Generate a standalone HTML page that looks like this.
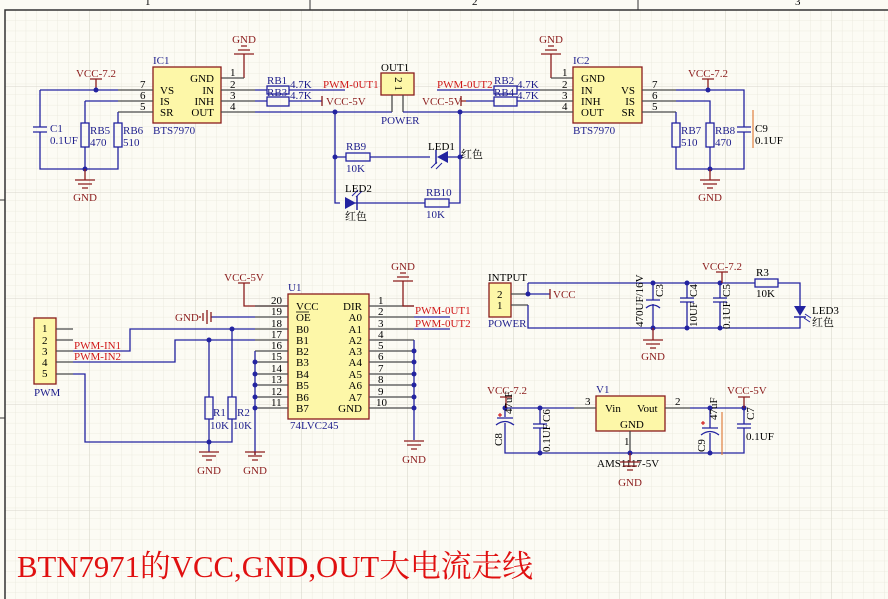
<!DOCTYPE html>
<html><head><meta charset="utf-8"><style>
html,body{margin:0;padding:0;background:#fcfbf4;}
svg{display:block;}
text{font-family:"Liberation Serif","Noto Serif CJK SC",serif;font-size:11px;}
.w{stroke:#2323a0;stroke-width:1.3;fill:none}
.p{stroke:#4a4a4a;stroke-width:1.3;fill:none}
.c{stroke:#2323a0;stroke-width:1.3;fill:none}
.pw{stroke:#8b1c1c;stroke-width:1.3;fill:none}
.b{fill:#1e1e8c}
.r{fill:#d01818}
.br{fill:#8b1c1c}
.k{fill:#000}
.ic{fill:#fdf7a8;stroke:#8b1c1c;stroke-width:1.3}
.d{fill:#2323a0}
</style></head><body>
<svg width="888" height="599" viewBox="0 0 888 599" xmlns="http://www.w3.org/2000/svg">
<defs>
<pattern id="g1" width="10.6" height="10.6" patternUnits="userSpaceOnUse" x="5" y="10">
<path d="M10.6 0V10.6H0" fill="none" stroke="#e9e7dc" stroke-width="0.8"/></pattern>
<pattern id="g2" width="106" height="106" patternUnits="userSpaceOnUse" x="-16" y="87">
<path d="M106 0V106H0" fill="none" stroke="#d8d6cc" stroke-width="1"/></pattern>
</defs>
<rect width="888" height="599" fill="#fcfbf4"/>
<rect x="5" y="10" width="883" height="589" fill="url(#g1)"/>
<rect x="5" y="10" width="883" height="589" fill="url(#g2)"/>
<path d="M5 599V10H888" stroke="#333" stroke-width="1.5" fill="none"/>
<path d="M310 0V10M638 0V10M0 200H5M0 418H5" stroke="#333" stroke-width="1"/>
<text x="145" y="5" class="k" font-size="8">1</text><text x="472" y="5" class="k" font-size="8">2</text><text x="795" y="5" class="k" font-size="8">3</text>

<!-- ===== IC1 ===== -->
<text x="244" y="43" class="br" text-anchor="middle">GND</text>
<path class="pw" d="M241 46H247M238 50H250M234 54H254M244 54V78"/>
<path class="p" d="M221 78H244"/>
<rect x="153" y="67" width="68" height="56" class="ic"/>
<text x="153" y="64" class="b">IC1</text>
<text x="153" y="134" class="b">BTS7970</text>
<text x="214" y="82" class="k" text-anchor="end">GND</text>
<text x="160" y="94" class="k">VS</text><text x="214" y="94" class="k" text-anchor="end">IN</text>
<text x="160" y="105" class="k">IS</text><text x="214" y="105" class="k" text-anchor="end">INH</text>
<text x="160" y="116" class="k">SR</text><text x="214" y="116" class="k" text-anchor="end">OUT</text>
<path class="p" d="M118 90H153M118 101H153M118 112H153M221 90H255M221 101H255M221 112H255"/>
<text x="140" y="88" class="k">7</text><text x="140" y="99" class="k">6</text><text x="140" y="110" class="k">5</text>
<text x="230" y="76" class="k">1</text><text x="230" y="88" class="k">2</text><text x="230" y="99" class="k">3</text><text x="230" y="110" class="k">4</text>
<text x="96" y="77" class="br" text-anchor="middle">VCC-7.2</text>
<path class="pw" d="M90 79H102M96 79V90"/>
<path class="w" d="M40 90H118M40 90V127M40 132V169H118V147M85 101H118M85 101V123M85 147V169M118 112V123"/>
<circle cx="96" cy="90" r="2.5" class="d"/><circle cx="85" cy="169" r="2.5" class="d"/>
<path class="c" d="M33 127H47M33 132H47"/>
<text x="50" y="132" class="b">C1</text><text x="50" y="144" class="b">0.1UF</text>
<rect x="81" y="123" width="8" height="24" class="c"/><rect x="114" y="123" width="8" height="24" class="c"/>
<text x="90" y="134" class="b">RB5</text><text x="90" y="146" class="b">470</text>
<text x="123" y="134" class="b">RB6</text><text x="123" y="146" class="b">510</text>
<path class="pw" d="M85 169V180M75 180H95M78 184H92M82 188H88"/>
<text x="85" y="201" class="br" text-anchor="middle">GND</text>
<!-- RB1/RB3 -->
<path class="w" d="M255 90H267M289 90H345M255 101H267M289 101H322M255 112H392"/>
<rect x="267" y="86" width="22" height="8" class="c"/><rect x="267" y="97" width="22" height="9" class="c"/>
<text x="267" y="84" class="b">RB1</text><text x="267" y="96" class="b">RB3</text>
<text x="290" y="88" class="b">4.7K</text><text x="290" y="99" class="b">4.7K</text>
<text x="323" y="88" class="r">PWM-0UT1</text>
<path class="pw" d="M322 96V106"/><text x="326" y="105" class="br">VCC-5V</text>
<!-- OUT1 -->
<rect x="381" y="73" width="33" height="22" class="ic"/>
<text x="381" y="71" class="k">OUT1</text>
<text x="398" y="87" class="k" font-size="7" text-anchor="middle" transform="rotate(90 398 84)">2 1</text>
<path class="p" d="M392 95V112M403 95V112"/>
<text x="381" y="124" class="b">POWER</text>
<path class="w" d="M403 112H460M335 112V203H340M355 203H425M449 203H460V112M335 157H346M370 157H430M448 157H460"/>
<circle cx="335" cy="112" r="2.5" class="d"/><circle cx="335" cy="157" r="2.5" class="d"/>
<circle cx="460" cy="112" r="2.5" class="d"/><circle cx="460" cy="157" r="2.5" class="d"/>
<rect x="346" y="153" width="24" height="8" class="c"/><text x="346" y="150" class="b">RB9</text><text x="346" y="172" class="b">10K</text>
<path d="M448 151V163L437 157Z" class="d"/><path d="M436 150V164" stroke="#2323a0" stroke-width="1.5"/>
<path d="M437 162L431 168M442 163L436 169" stroke="#2323a0" stroke-width="1"/>
<text x="428" y="150" class="k">LED1</text><text x="461" y="158" class="k">红色</text>
<path d="M345 197V209L356 203Z" class="d"/><path d="M357 196V210" stroke="#2323a0" stroke-width="1.5"/>
<path d="M352 196L358 190M356 197L362 191" stroke="#2323a0" stroke-width="1"/>
<text x="345" y="192" class="k">LED2</text><text x="345" y="220" class="k">红色</text>
<rect x="425" y="199" width="24" height="8" class="c"/><text x="426" y="196" class="b">RB10</text><text x="426" y="218" class="b">10K</text>

<!-- ===== IC2 ===== -->
<text x="551" y="43" class="br" text-anchor="middle">GND</text>
<path class="pw" d="M548 46H554M545 50H557M541 54H561M551 54V78"/>
<path class="p" d="M551 78H573"/>
<rect x="573" y="67" width="69" height="56" class="ic"/>
<text x="573" y="64" class="b">IC2</text><text x="573" y="134" class="b">BTS7970</text>
<text x="581" y="82" class="k">GND</text>
<text x="581" y="94" class="k">IN</text><text x="635" y="94" class="k" text-anchor="end">VS</text>
<text x="581" y="105" class="k">INH</text><text x="635" y="105" class="k" text-anchor="end">IS</text>
<text x="581" y="116" class="k">OUT</text><text x="635" y="116" class="k" text-anchor="end">SR</text>
<path class="p" d="M540 90H573M540 101H573M540 112H573M642 90H676M642 101H676M642 112H676"/>
<text x="562" y="76" class="k">1</text><text x="562" y="88" class="k">2</text><text x="562" y="99" class="k">3</text><text x="562" y="110" class="k">4</text>
<text x="652" y="88" class="k">7</text><text x="652" y="99" class="k">6</text><text x="652" y="110" class="k">5</text>
<path class="w" d="M437 90H494M517 90H540M466 101H494M517 101H540M460 112H540"/>
<rect x="494" y="86" width="23" height="8" class="c"/><rect x="494" y="97" width="23" height="9" class="c"/>
<text x="494" y="84" class="b">RB2</text><text x="494" y="96" class="b">RB4</text>
<text x="517" y="88" class="b">4.7K</text><text x="517" y="99" class="b">4.7K</text>
<text x="437" y="88" class="r">PWM-0UT2</text>
<path class="pw" d="M461 96V106M461 101H466"/><text x="422" y="105" class="br">VCC-5V</text>
<text x="708" y="77" class="br" text-anchor="middle">VCC-7.2</text>
<path class="pw" d="M702 79H714M708 79V90"/>
<path class="w" d="M676 90H744V127M744 132V169H676V147M676 112V123M676 101H710V123M710 147V169"/>
<circle cx="708" cy="90" r="2.5" class="d"/><circle cx="710" cy="169" r="2.5" class="d"/>
<rect x="672" y="123" width="8" height="24" class="c"/><rect x="706" y="123" width="8" height="24" class="c"/>
<text x="681" y="134" class="b">RB7</text><text x="681" y="146" class="b">510</text>
<text x="715" y="134" class="b">RB8</text><text x="715" y="146" class="b">470</text>
<path class="c" d="M737 127H751M737 132H751"/>
<path d="M753 110V148" stroke="#e08040" stroke-width="1.2"/>
<text x="755" y="132" class="k">C9</text><text x="755" y="144" class="k">0.1UF</text>
<path class="pw" d="M710 169V180M700 180H720M703 184H717M707 188H713"/>
<text x="710" y="201" class="br" text-anchor="middle">GND</text>

<!-- ===== U1 ===== -->
<text x="244" y="281" class="br" text-anchor="middle">VCC-5V</text>
<path class="pw" d="M238 283H250M244 283V306H288"/>
<rect x="288" y="294" width="81" height="125" class="ic"/>
<text x="288" y="291" class="b">U1</text><text x="290" y="429" class="b">74LVC245</text>
<g class="k">
<text x="296" y="310">VCC</text><text x="296" y="321">OE</text><text x="296" y="333">B0</text><text x="296" y="344">B1</text><text x="296" y="355">B2</text><text x="296" y="366">B3</text><text x="296" y="378">B4</text><text x="296" y="389">B5</text><text x="296" y="401">B6</text><text x="296" y="412">B7</text>
<text x="362" y="310" text-anchor="end">DIR</text><text x="362" y="321" text-anchor="end">A0</text><text x="362" y="333" text-anchor="end">A1</text><text x="362" y="344" text-anchor="end">A2</text><text x="362" y="355" text-anchor="end">A3</text><text x="362" y="366" text-anchor="end">A4</text><text x="362" y="378" text-anchor="end">A5</text><text x="362" y="389" text-anchor="end">A6</text><text x="362" y="401" text-anchor="end">A7</text><text x="362" y="412" text-anchor="end">GND</text>
</g>
<path d="M296 312H309" stroke="#000" stroke-width="0.8"/>
<path class="p" d="M255 306H288M255 317H288M255 329H288M255 340H288M255 351H288M255 362H288M255 374H288M255 385H288M255 397H288M255 408H288M369 306H414M369 317H414M369 329H414M369 340H414M369 351H414M369 362H414M369 374H414M369 385H414M369 397H414M369 408H414"/>
<g class="k" font-size="11">
<text x="271" y="304">20</text><text x="271" y="315">19</text><text x="271" y="327">18</text><text x="271" y="338">17</text><text x="271" y="349">16</text><text x="271" y="360">15</text><text x="271" y="372">14</text><text x="271" y="383">13</text><text x="271" y="395">12</text><text x="271" y="406">11</text>
<text x="378" y="304">1</text><text x="378" y="315">2</text><text x="378" y="327">3</text><text x="378" y="338">4</text><text x="378" y="349">5</text><text x="378" y="360">6</text><text x="378" y="372">7</text><text x="378" y="383">8</text><text x="378" y="395">9</text><text x="376" y="406">10</text>
</g>
<text x="403" y="270" class="br" text-anchor="middle">GND</text>
<path class="pw" d="M400 273H406M397 277H409M393 281H413M403 281V306H414"/>
<path class="w" d="M414 317H450M414 329H450"/>
<text x="415" y="314" class="r">PWM-0UT1</text><text x="415" y="327" class="r">PWM-0UT2</text>
<path class="w" d="M255 317H211"/>
<path class="pw" d="M211 312V322M207 310V324M203 313V321M200 316V318"/>
<text x="175" y="321" class="br">GND</text>
<path class="w" d="M414 340V440M255 351V455"/>
<g class="d"><circle cx="414" cy="351" r="2.5"/><circle cx="414" cy="362" r="2.5"/><circle cx="414" cy="374" r="2.5"/><circle cx="414" cy="385" r="2.5"/><circle cx="414" cy="397" r="2.5"/><circle cx="414" cy="408" r="2.5"/>
<circle cx="255" cy="362" r="2.5"/><circle cx="255" cy="374" r="2.5"/><circle cx="255" cy="385" r="2.5"/><circle cx="255" cy="397" r="2.5"/><circle cx="255" cy="408" r="2.5"/></g>
<path class="pw" d="M404 441H424M407 445H421M411 449H417"/><text x="414" y="463" class="br" text-anchor="middle">GND</text>
<path class="pw" d="M255 455V452M245 452H265M248 456H262M252 460H258"/><text x="255" y="474" class="br" text-anchor="middle">GND</text>
<!-- PWM connector -->
<rect x="34" y="318" width="22" height="66" class="ic"/>
<g class="k"><text x="42" y="332">1</text><text x="42" y="344">2</text><text x="42" y="355">3</text><text x="42" y="366">4</text><text x="42" y="377">5</text></g>
<text x="34" y="396" class="b">PWM</text>
<path class="p" d="M56 329H73M56 340H73M56 351H73M56 362H73M56 374H73"/>
<path class="w" d="M73 351H130V329H255M73 362H175V340H255M73 374H85V442H232V419M209 340V397M209 419V452M232 329V397"/>
<text x="74" y="349" class="r">PWM-IN1</text><text x="74" y="360" class="r">PWM-IN2</text>
<circle cx="232" cy="329" r="2.5" class="d"/><circle cx="209" cy="340" r="2.5" class="d"/><circle cx="209" cy="442" r="2.5" class="d"/>
<rect x="205" y="397" width="8" height="22" class="c"/><rect x="228" y="397" width="8" height="22" class="c"/>
<text x="213" y="416" class="b">R1</text><text x="210" y="429" class="b">10K</text>
<text x="237" y="416" class="b">R2</text><text x="233" y="429" class="b">10K</text>
<path class="pw" d="M199 452H219M202 456H216M206 460H212"/><text x="209" y="474" class="br" text-anchor="middle">GND</text>

<!-- ===== Power input ===== -->
<text x="488" y="281" class="k">INTPUT</text>
<rect x="489" y="283" width="22" height="34" class="ic"/>
<text x="497" y="298" class="k">2</text><text x="497" y="309" class="k">1</text>
<text x="488" y="327" class="b">POWER</text>
<path class="p" d="M511 294H528M511 305H528"/>
<path class="w" d="M528 294H550M528 283V294M528 283H755M778 283H800V306M800 317V328H528V305"/>
<path class="pw" d="M550 289V299"/><text x="553" y="298" class="br">VCC</text>
<circle cx="528" cy="294" r="2.5" class="d"/>
<g class="d"><circle cx="653" cy="283" r="2.5"/><circle cx="687" cy="283" r="2.5"/><circle cx="720" cy="283" r="2.5"/><circle cx="653" cy="328" r="2.5"/><circle cx="687" cy="328" r="2.5"/><circle cx="720" cy="328" r="2.5"/></g>
<path class="c" d="M653 283V300M646 300H660M646 308Q653 302 660 308M653 304V328M687 283V298M680 298H694M680 302H694M687 302V328M720 283V298M713 298H727M713 302H727M720 302V328"/>
<text x="0" y="0" class="k" transform="translate(643,327) rotate(-90)" font-size="10">470UF/16V</text>
<text x="0" y="0" class="k" transform="translate(663,297) rotate(-90)" font-size="10">C3</text>
<text x="0" y="0" class="k" transform="translate(697,297) rotate(-90)" font-size="10">C4</text>
<text x="0" y="0" class="k" transform="translate(697,327) rotate(-90)" font-size="10">10UF</text>
<text x="0" y="0" class="k" transform="translate(730,297) rotate(-90)" font-size="10">C5</text>
<text x="0" y="0" class="k" transform="translate(730,329) rotate(-90)" font-size="10">0.1UF</text>
<text x="722" y="270" class="br" text-anchor="middle">VCC-7.2</text>
<path class="pw" d="M716 272H728M722 272V283"/>
<rect x="755" y="279" width="23" height="8" class="c"/>
<text x="756" y="276" class="k">R3</text><text x="756" y="297" class="k">10K</text>
<path d="M794 306H806L800 316Z" class="d"/><path d="M794 317H806" stroke="#2323a0" stroke-width="1.5"/>
<path d="M805 314L811 318M804 318L810 322" stroke="#2323a0" stroke-width="1"/>
<text x="812" y="314" class="k">LED3</text><text x="812" y="326" class="k">红色</text>
<path class="pw" d="M653 328V340M643 340H663M646 344H660M650 348H656"/><text x="653" y="360" class="br" text-anchor="middle">GND</text>

<!-- ===== Regulator ===== -->
<rect x="596" y="396" width="69" height="35" class="ic"/>
<text x="596" y="393" class="b">V1</text>
<text x="605" y="412" class="k">Vin</text><text x="637" y="412" class="k">Vout</text><text x="620" y="428" class="k">GND</text>
<path class="p" d="M574 408H596M665 408H690M630 431V453"/>
<text x="585" y="405" class="k">3</text><text x="675" y="405" class="k">2</text><text x="624" y="445" class="k" >1</text>
<path class="w" d="M505 408H574M690 408H744V424M744 428V453H505V423M505 408V417M540 408V424M540 428V453M710 408V428M710 433V453"/>
<g class="d"><circle cx="505" cy="408" r="2.5"/><circle cx="540" cy="408" r="2.5"/><circle cx="710" cy="408" r="2.5"/><circle cx="744" cy="408" r="2.5"/><circle cx="540" cy="453" r="2.5"/><circle cx="630" cy="453" r="2.5"/><circle cx="710" cy="453" r="2.5"/></g>
<path class="c" d="M497 418H513M496 425Q505 418 514 425M533 424H547M533 428H547M702 428H718M701 435Q710 428 719 435M737 424H751M737 428H751"/>
<path d="M498 415H502M500 413V417M701 423H705M703 421V425" stroke="#c00" stroke-width="1"/>
<path d="M722 412V455" stroke="#e08040" stroke-width="1.2"/>
<text x="487" y="394" class="br">VCC-7.2</text><path class="pw" d="M500 397H512M506 397V408"/>
<text x="727" y="394" class="br">VCC-5V</text><path class="pw" d="M738 397H750M744 397V408"/>
<text x="0" y="0" class="k" font-size="8" transform="translate(512,414) rotate(-90)">47uF</text>
<text x="0" y="0" class="k" font-size="10" transform="translate(502,446) rotate(-90)">C8</text>
<text x="0" y="0" class="k" font-size="10" transform="translate(550,422) rotate(-90)">C6</text>
<text x="0" y="0" class="k" font-size="10" transform="translate(550,452) rotate(-90)">0.1UF</text>
<text x="0" y="0" class="k" font-size="8" transform="translate(717,420) rotate(-90)">47uF</text>
<text x="0" y="0" class="k" font-size="10" transform="translate(705,452) rotate(-90)">C9</text>
<text x="0" y="0" class="k" font-size="10" transform="translate(754,420) rotate(-90)">C7</text>
<text x="746" y="440" class="k">0.1UF</text>
<text x="597" y="467" class="k">AMS1117-5V</text>
<path class="pw" d="M630 453V462M620 462H640M623 466H637M627 470H633"/><text x="630" y="486" class="br" text-anchor="middle">GND</text>

<text x="17" y="577" fill="#e01010" textLength="516" lengthAdjust="spacingAndGlyphs" style="font-size:31px;font-family:'Liberation Serif','Noto Serif CJK SC',serif">BTN7971的VCC,GND,OUT大电流走线</text>
</svg>
</body></html>
